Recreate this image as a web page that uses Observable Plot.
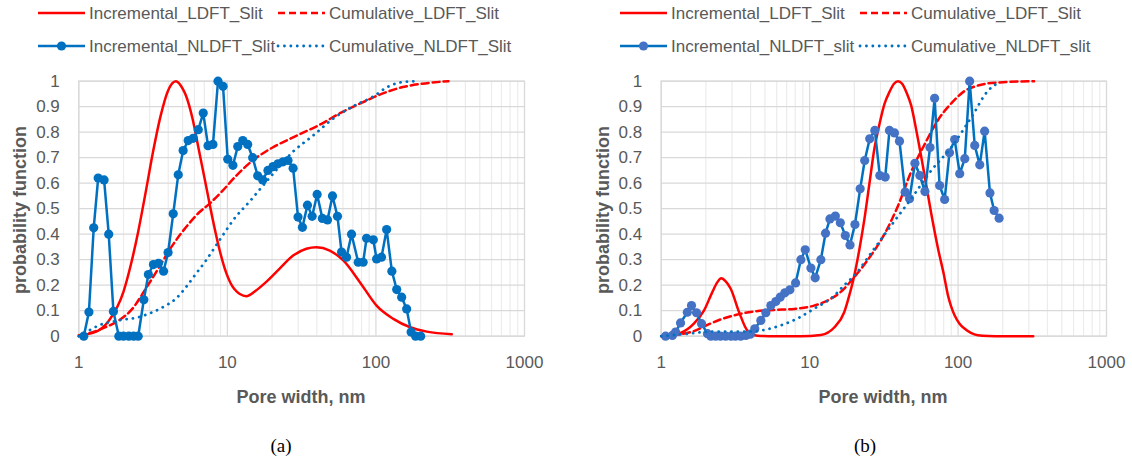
<!DOCTYPE html>
<html><head><meta charset="utf-8">
<script src="https://cdn.jsdelivr.net/npm/d3@7"></script>
<script src="https://cdn.jsdelivr.net/npm/@observablehq/plot@0.6"></script>
<style>
body{margin:0;background:#fff;}
#root{position:relative;width:1132px;height:466px;overflow:hidden;font-family:"Liberation Sans",Arial,sans-serif;color:#595959;}
.abs{position:absolute;white-space:nowrap;}
.ttl{font-size:18px;font-weight:bold;line-height:22px;}
.cap{font-family:"Liberation Serif","Times New Roman",serif;font-size:19px;color:#000;line-height:22px;}
</style></head><body><div id="root"></div>
<script>
// ---------- data ----------
const xTickLabels = [1, 10, 100, 1000];
const xMinorGrid = [2,3,4,5,6,7,8,9,20,30,40,50,60,70,80,90,200,300,400,500,600,700,800,900];
const yTicks = [0,0.1,0.2,0.3,0.4,0.5,0.6,0.7,0.8,0.9,1];

const legendA = ["Incremental_LDFT_Slit","Cumulative_LDFT_Slit","Incremental_NLDFT_Slit","Cumulative_NLDFT_Slit"];
const legendB = ["Incremental_LDFT_Slit","Cumulative_LDFT_Slit","Incremental_NLDFT_slit","Cumulative_NLDFT_slit"];
const captions = ["(a)","(b)"];
const xTitle = "Pore width, nm";
const yTitle = "probability function";

// Panel (a)
const aIncLDFT = [[1.0,0.004],[1.26,0.014],[1.58,0.058],[2.0,0.175],[2.24,0.28],[2.51,0.41],[2.82,0.565],[3.16,0.723],[3.55,0.863],[3.98,0.962],[4.5,1.0],[5.01,0.97],[5.26,0.944],[5.83,0.853],[6.47,0.722],[7.18,0.591],[7.96,0.46],[8.83,0.342],[9.8,0.25],[11.1,0.186],[13.4,0.157],[15.5,0.178],[18.2,0.212],[22.4,0.264],[27.7,0.316],[34,0.343],[39.7,0.349],[48.9,0.336],[60.3,0.297],[78,0.212],[101,0.12],[131,0.068],[170,0.035],[220,0.018],[324,0.008]];
const aCumLDFT = [[1.0,0.0],[1.3,0.02],[1.58,0.04],[1.86,0.062],[2.29,0.107],[2.82,0.186],[3.47,0.27],[4.27,0.356],[5.26,0.427],[6.47,0.486],[7.56,0.519],[9.3,0.571],[11.5,0.63],[14.8,0.689],[20.3,0.741],[27.7,0.78],[43,0.833],[58.7,0.878],[80,0.915],[109,0.95],[149,0.976],[204,0.99],[308,1.0]];
const aIncNLDFT = [[1.08,0],[1.17,0.095],[1.26,0.425],[1.35,0.62],[1.48,0.613],[1.59,0.40],[1.71,0.097],[1.86,0],[2.0,0],[2.17,0],[2.34,0],[2.51,0],[2.74,0.143],[2.94,0.242],[3.18,0.281],[3.44,0.286],[3.72,0.255],[3.99,0.328],[4.32,0.48],[4.67,0.633],[5.04,0.728],[5.45,0.767],[5.89,0.776],[6.37,0.81],[6.88,0.875],[7.41,0.747],[8.0,0.752],[8.65,1.0],[9.35,0.98],[10.06,0.694],[10.9,0.67],[11.75,0.744],[12.7,0.767],[13.7,0.752],[14.8,0.70],[16.0,0.629],[17.3,0.613],[18.75,0.65],[20.3,0.665],[21.9,0.676],[23.7,0.684],[25.6,0.689],[27.7,0.659],[29.9,0.467],[32,0.427],[34.6,0.514],[37.2,0.47],[40.2,0.556],[43.6,0.462],[47.2,0.456],[51,0.55],[55.1,0.47],[58.7,0.33],[63.4,0.31],[68.5,0.40],[76,0.29],[82,0.29],[86.5,0.384],[96,0.378],[101,0.303],[109,0.31],[118,0.418],[128,0.255],[138,0.183],[149,0.153],[161,0.107],[172.5,0.016],[185,0],[200,0]];
const aCumNLDFT = [[1.0,0.0],[1.17,0.022],[1.36,0.042],[1.86,0.062],[2.54,0.075],[3.13,0.094],[3.85,0.12],[4.5,0.147],[5.26,0.192],[6.15,0.245],[7.18,0.297],[8.39,0.356],[9.55,0.405],[10.9,0.454],[14.1,0.528],[20.3,0.637],[27.7,0.724],[37.8,0.787],[51.5,0.853],[70.3,0.902],[96,0.94],[121,0.979],[149,0.996],[185,1.0]];

// Panel (b)
const bIncLDFT = [[1.0,0.0],[1.35,0.013],[1.66,0.049],[1.94,0.10],[2.21,0.173],[2.38,0.21],[2.54,0.227],[2.72,0.215],[2.94,0.186],[3.35,0.094],[3.81,0.022],[4.45,0.002],[6.0,0],[8.7,0],[11.9,0.005],[14.7,0.035],[17.1,0.094],[18.5,0.16],[20,0.238],[21.7,0.345],[23.4,0.46],[25.3,0.6],[27.3,0.735],[29.5,0.83],[31.9,0.91],[34.5,0.958],[37,0.99],[39.4,1.0],[42,0.99],[45,0.955],[48.3,0.905],[53,0.79],[59.5,0.63],[66,0.48],[73.3,0.343],[80,0.245],[85.5,0.16],[90,0.115],[94.9,0.081],[102,0.05],[111,0.029],[122,0.013],[136,0.004],[160,0.001],[200,0],[321,0]];
const bCumLDFT = [[1.0,0.0],[1.35,0.008],[1.66,0.02],[1.94,0.038],[2.52,0.066],[3.26,0.085],[4.23,0.097],[5.77,0.103],[7.87,0.107],[10.7,0.12],[13.2,0.14],[16.3,0.175],[20,0.232],[24.7,0.30],[31.9,0.40],[39.3,0.51],[48.3,0.645],[59.5,0.752],[73.3,0.848],[90,0.913],[111,0.962],[136,0.983],[186,0.995],[325,1.0]];
const bIncNLDFT = [[1.07,0],[1.19,0.003],[1.25,0.016],[1.35,0.052],[1.5,0.094],[1.6,0.12],[1.73,0.092],[1.87,0.049],[2.05,0.01],[2.16,0],[2.33,0],[2.51,0],[2.72,0],[2.95,0],[3.16,0],[3.43,0],[3.72,0.003],[3.98,0.008],[4.27,0.029],[4.69,0.062],[5.07,0.092],[5.48,0.12],[5.92,0.136],[6.33,0.153],[6.81,0.17],[7.36,0.182],[8.04,0.209],[8.73,0.30],[9.34,0.339],[10.2,0.267],[10.9,0.229],[11.9,0.30],[12.8,0.404],[13.7,0.46],[14.9,0.471],[16.1,0.445],[17.4,0.395],[18.7,0.358],[20.2,0.438],[21.9,0.578],[23.5,0.689],[25.4,0.774],[27.5,0.807],[29.7,0.63],[32.3,0.624],[34.5,0.807],[37.3,0.797],[40.3,0.765],[44,0.565],[47.1,0.539],[51.2,0.678],[55.3,0.63],[59.8,0.567],[64.7,0.74],[69.5,0.933],[75.1,0.591],[81.2,0.536],[87.5,0.719],[94.9,0.771],[102.6,0.637],[111,0.696],[119.7,1.0],[129.5,0.748],[140,0.672],[151,0.804],[164,0.562],[175,0.493],[189,0.463]];
const bCumNLDFT = [[1.0,0.0],[1.46,0.009],[2.21,0.018],[4.0,0.018],[5.07,0.026],[6.57,0.045],[8.37,0.071],[10.6,0.106],[14.7,0.16],[17.1,0.2],[20,0.238],[26,0.327],[35.4,0.434],[48.3,0.539],[66,0.65],[90,0.741],[123,0.859],[160,0.964],[177,0.985],[186,0.992]];

// ---------- styles ----------
const RED = "#ff0000", BLUE = "#0070c0";
const root = document.getElementById("root");

function addDiv(cls, text, left, top, transform) {
  const d = document.createElement("div");
  d.className = "abs " + cls;
  d.textContent = text;
  d.style.left = left + "px";
  d.style.top = top + "px";
  if (transform) d.style.transform = transform;
  root.appendChild(d);
  return d;
}

function legend(names, dx, markerFill) {
  const svg = d3.select(root).append("svg")
    .attr("width", 566).attr("height", 62)
    .style("position", "absolute").style("left", dx + "px").style("top", "0px");
  const rows = [13, 46];
  const cols = [[38, 85, 89], [278, 325, 329]];
  const styles = [
    {stroke: RED, dash: null, cap: "butt", w: 2.5},
    {stroke: RED, dash: "7,4", cap: "butt", w: 2.5},
    {stroke: BLUE, dash: null, cap: "butt", w: 2.5, dot: true},
    {stroke: BLUE, dash: "0.1,6.3", cap: "round", w: 2.8}
  ];
  names.forEach((name, i) => {
    const row = Math.floor(i / 2), col = i % 2;
    const y = rows[row], [x0, x1, tx] = cols[col];
    const s = styles[i];
    const ln = svg.append("line").attr("x1", x0).attr("x2", x1).attr("y1", y).attr("y2", y)
      .attr("stroke", s.stroke).attr("stroke-width", s.w).attr("stroke-linecap", s.cap);
    if (s.dash) ln.attr("stroke-dasharray", s.dash);
    if (s.dot) svg.append("circle").attr("cx", (x0 + x1) / 2).attr("cy", y).attr("r", 4.6).attr("fill", markerFill);
    svg.append("text").attr("x", tx).attr("y", y).attr("dy", "0.35em")
      .attr("font-family", "Liberation Sans, Arial, sans-serif").attr("font-size", 17)
      .attr("fill", "#595959").text(name);
  });
}

function panel(left, marginLeft, marginRight, incL, cumL, incN, cumN, markerFill) {
  const chart = Plot.plot({
    width: 566, height: 318,
    marginLeft, marginRight, marginTop: 18.7, marginBottom: 44.3,
    style: {fontFamily: "Liberation Sans, Arial, sans-serif", fontSize: "17px", color: "#595959", background: "white", overflow: "visible"},
    x: {type: "log", domain: [1, 1000], ticks: xTickLabels, tickFormat: d => String(d), tickSize: 0, tickPadding: 20, label: null},
    y: {domain: [0, 1], ticks: yTicks, tickFormat: d => (d === 0 ? "0" : d === 1 ? "1" : d.toFixed(1)), tickSize: 0, tickPadding: 19, label: null},
    marks: [
      Plot.ruleX(xMinorGrid, {stroke: "#ececec", strokeWidth: 1.2}),
      Plot.ruleX(xTickLabels, {stroke: "#d9d9d9", strokeWidth: 1.2}),
      Plot.ruleY(yTicks, {stroke: "#d9d9d9", strokeWidth: 1.2}),
      Plot.frame({stroke: "#d9d9d9", strokeWidth: 1.2}),
      Plot.line(incL, {x: d => d[0], y: d => d[1], stroke: RED, strokeWidth: 2.5, curve: "monotone-x"}),
      Plot.line(cumL, {x: d => d[0], y: d => d[1], stroke: RED, strokeWidth: 2.5, strokeDasharray: "7,4", curve: "monotone-x"}),
      Plot.line(incN, {x: d => d[0], y: d => d[1], stroke: BLUE, strokeWidth: 2.5}),
      Plot.dot(incN, {x: d => d[0], y: d => d[1], r: 4.6, fill: markerFill, stroke: "none"}),
      Plot.line(cumN, {x: d => d[0], y: d => d[1], stroke: BLUE, strokeWidth: 2.8, strokeDasharray: "0.1,6.3", strokeLinecap: "round", curve: "monotone-x"})
    ]
  });
  chart.style.position = "absolute";
  chart.style.left = left + "px";
  chart.style.top = "62px";
  root.appendChild(chart);
}

// Panel (a)
legend(legendA, 0, BLUE);
panel(0, 78.3, 42, aIncLDFT, aCumLDFT, aIncNLDFT, aCumNLDFT, BLUE);
addDiv("ttl", yTitle, 20, 210, "translate(-50%,-50%) rotate(-90deg)");
addDiv("ttl", xTitle, 301, 397, "translate(-50%,-50%)");
addDiv("cap", captions[0], 281, 446, "translate(-50%,-50%)");

// Panel (b)
legend(legendB, 582.4, "#4472c4");
panel(566, 94.7, 26, bIncLDFT, bCumLDFT, bIncNLDFT, bCumNLDFT, "#4472c4");
addDiv("ttl", yTitle, 603, 210, "translate(-50%,-50%) rotate(-90deg)");
addDiv("ttl", xTitle, 883, 397, "translate(-50%,-50%)");
addDiv("cap", captions[1], 865, 446, "translate(-50%,-50%)");
</script></body></html>
